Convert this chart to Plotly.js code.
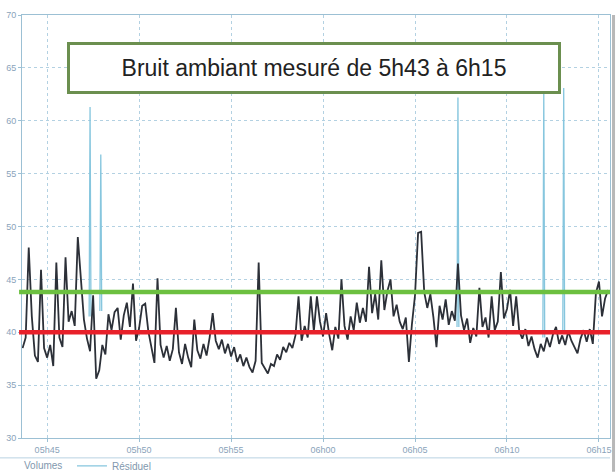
<!DOCTYPE html>
<html>
<head>
<meta charset="utf-8">
<script src="https://cdn.plot.ly/plotly-3.0.1.min.js"></script>
<style>html,body{margin:0;padding:0;background:#fff;}#chart{width:616px;height:473px;}</style>
</head>
<body>
<div id="chart"></div>
<script>
// ---- data ----
const dayPrefix = '2024-01-01 ';
const startTime = '05:43:40';
const stepSeconds = 10;
// sound level (dB) sampled every 10 s from 05:43:40
const levels = [
  38.5,39.5,48.0,41.5,37.8,37.2,45.9,38.5,37.6,38.8,
  36.8,46.6,39.5,38.6,47.1,41.0,42.0,40.6,49.0,45.4,
  41.2,39.4,38.2,43.5,35.6,36.4,38.8,37.9,41.7,40.2,
  41.9,42.3,39.3,41.6,42.8,40.5,44.6,39.2,40.4,42.5,
  42.7,40.1,38.6,37.1,45.1,38.8,37.6,38.7,37.3,38.4,
  42.3,38.1,37.0,38.9,37.6,36.7,41.2,38.3,37.5,38.9,
  37.8,39.5,41.8,39.2,38.4,39.3,38.0,38.9,37.7,38.6,
  37.2,37.9,36.8,37.6,36.7,36.2,37.3,46.6,37.1,36.6,
  36.1,37.0,36.8,37.9,37.4,38.6,38.1,39.0,38.5,39.7,
  43.4,39.2,40.6,39.5,43.4,40.1,43.4,41.0,39.6,41.8,
  39.8,38.3,40.5,39.4,45.0,40.6,39.3,41.5,40.2,42.8,
  40.9,42.3,41.0,46.2,41.8,43.6,41.2,46.8,42.1,43.9,
  45.0,41.5,42.6,41.0,40.3,41.4,37.2,40.8,43.5,49.4,
  49.5,43.8,42.3,43.6,41.4,38.6,42.5,41.2,43.1,40.7,
  42.0,41.1,46.5,41.6,40.2,41.3,39.0,40.4,39.6,44.2,
  40.5,41.4,39.5,43.4,40.2,41.0,45.7,41.3,42.2,44.0,
  40.6,43.4,40.1,39.4,40.3,38.7,39.6,38.4,37.6,38.9,
  38.2,39.5,38.6,39.8,40.5,38.9,39.7,38.8,40.1,39.2,
  38.6,38.0,39.4,40.2,39.1,40.3,38.9,43.7,44.8,41.5,
  43.2,44.0
];
// light-blue event spikes
const eventTimes = ['05:47:20','05:47:55','06:07:20','06:12:00','06:13:05'];
const eventPeaks = [61.3, 56.8, 62.2, 62.7, 63.1];
const eventBases = [41.5, 42.0, 40.5, 39.5, 40.0];
// reference levels
const refLevels = [40.0, 43.8];
const refColors = ['#e8202a', '#6cc040'];
const yTicks = [30,35,40,45,50,55,60,65,70];
const titleText = 'Bruit ambiant mesuré de 5h43 à 6h15';
const legendLabel = 'Volumes';

// ---- build ----
function addSec(hms, s){
  const p = hms.split(':').map(Number);
  let t = p[0]*3600+p[1]*60+p[2]+s;
  const h = Math.floor(t/3600); t -= h*3600;
  const m = Math.floor(t/60); const sec = t - m*60;
  const f = n => String(n).padStart(2,'0');
  return dayPrefix + f(h)+':'+f(m)+':'+f(sec);
}
const times = levels.map((_, i) => addSec(startTime, i*stepSeconds));

const evX = [], evY = [];
eventTimes.forEach((t, k) => {
  evX.push(addSec(t,-3), addSec(t,0), addSec(t,3), null);
  evY.push(eventBases[k], eventPeaks[k], eventBases[k], null);
});

const traces = [
  {x: evX, y: evY, type:'scatter', mode:'lines', name:'Résiduel',
   line:{color:'#86c6de', width:1.3}, connectgaps:false, showlegend:true},
  {x: times, y: levels, type:'scatter', mode:'lines', name:'Volumes',
   line:{color:'#2c3038', width:1.8}, showlegend:false}
];

const shapes = refLevels.map((v,k) => ({
  type:'line', xref:'paper', yref:'y', x0:-0.005, x1:1.0, y0:v, y1:v,
  line:{color:refColors[k], width:4.5}, layer:'above'
}));
shapes.push({type:'line', xref:'paper', yref:'paper', x0:-0.04, x1:1.0, y0:-0.047, y1:-0.047,
  line:{color:'#b9d3e2', width:1}});
shapes.push({type:'line', xref:'paper', yref:'paper', x0:1.006, x1:1.006, y0:-0.08, y1:1.0,
  line:{color:'#b8b8b8', width:3}});

const gridCol = '#b3d1e2';
const layout = {
  width:616, height:473,
  margin:{l:22, r:6, t:15, b:35, autoexpand:false},
  paper_bgcolor:'#ffffff', plot_bgcolor:'#ffffff',
  font:{family:'Liberation Sans, Arial, sans-serif', color:'#7f9ab3'},
  xaxis:{
    type:'date',
    range:[addSec('05:43:38',0), addSec('06:15:36',0)],
    tick0: addSec('05:45:00',0), dtick: 300000,
    tickformat:'%Hh%M',
    showgrid:true, gridcolor:gridCol, griddash:'dot', gridwidth:1,
    showline:true, linecolor:'#9cc0d4', linewidth:1, mirror:true,
    ticks:'outside', ticklen:3, tickcolor:'#9cc0d4',
    tickfont:{size:9, color:'#8aa3ba'}, zeroline:false
  },
  yaxis:{
    range:[30,70], tickvals:yTicks,
    showgrid:true, gridcolor:gridCol, griddash:'dot', gridwidth:1,
    showline:true, linecolor:'#9cc0d4', linewidth:1, mirror:true,
    ticks:'outside', ticklen:3, tickcolor:'#9cc0d4',
    tickfont:{size:9, color:'#8aa3ba'}, zeroline:false
  },
  showlegend:true,
  legend:{orientation:'h', x:0.085, xanchor:'left', y:-0.066, yanchor:'middle',
    font:{size:10, color:'#8298ae'}, bgcolor:'rgba(0,0,0,0)'},
  shapes: shapes,
  annotations:[{
    xref:'paper', yref:'paper', x:0.4974, y:0.8747, xanchor:'center', yanchor:'middle',
    text:titleText, showarrow:false,
    font:{family:'Liberation Sans, Arial, sans-serif', size:23, color:'#222222'},
    bgcolor:'#ffffff', bordercolor:'#6b8f4f', borderwidth:3, borderpad:1,
    width:486, height:44, align:'center', valign:'middle'
  },{
    xref:'paper', yref:'paper', x:0.0, y:-0.066, xanchor:'left', yanchor:'middle',
    text:legendLabel, showarrow:false, font:{size:10, color:'#8298ae'}
  }]
};

Plotly.newPlot('chart', traces, layout, {displayModeBar:false, staticPlot:true});
</script>
</body>
</html>
